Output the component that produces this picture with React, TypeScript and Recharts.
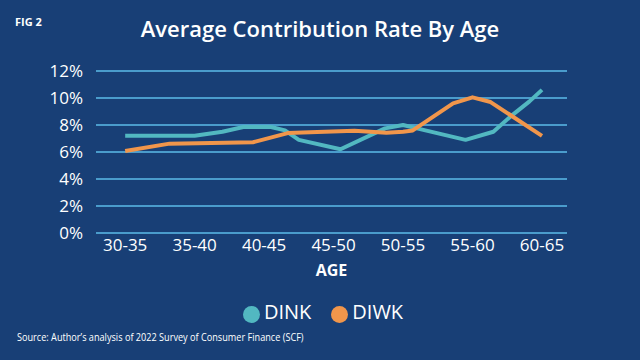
import {
  CartesianGrid,
  Label,
  Legend,
  Line,
  LineChart,
  XAxis,
  YAxis,
} from "recharts"

const ageGroups = ["30-35", "35-40", "40-45", "45-50", "50-55", "55-60", "60-65"]
const ageMids = [32.5, 37.5, 42.5, 47.5, 52.5, 57.5, 62.5]
const pctTicks = [0, 2, 4, 6, 8, 10, 12]

// contribution rate (%) by age
const dinkAges = [32.5, 37.5, 39.5, 41, 43, 44, 45, 48, 51.2, 52.5, 53.5, 57, 59, 60.2, 61.6, 62.5]
const dinkRates = [7.2, 7.2, 7.5, 7.85, 7.85, 7.6, 6.9, 6.2, 7.75, 8.0, 7.75, 6.9, 7.5, 8.6, 9.75, 10.6]

const diwkAges = [32.5, 35.7, 41.7, 44.2, 49, 51.3, 52.5, 53.2, 56.1, 57.5, 58.8, 62.5]
const diwkRates = [6.07, 6.62, 6.72, 7.4, 7.58, 7.42, 7.5, 7.6, 9.6, 10.05, 9.7, 7.2]

const dink = dinkAges.map((age, i) => ({ age, rate: dinkRates[i] }))
const diwk = diwkAges.map((age, i) => ({ age, rate: diwkRates[i] }))

const BG = "#183f76"
const GRID = "#4a9ccc"
const TEAL = "#52b8c1"
const ORANGE = "#f1964b"
const FONT = "'Open Sans', 'Noto Sans', sans-serif"

export default function App() {
  return (
    <div
      style={{
        position: "fixed",
        left: 0,
        top: 0,
        width: 640,
        height: 360,
        background: BG,
        fontFamily: FONT,
        color: "#fff",
        overflow: "hidden",
      }}
    >
      <div style={{ position: "absolute", left: 15, top: 14, fontSize: 11, fontWeight: 700 }}>
        FIG 2
      </div>
      <div
        style={{
          position: "absolute",
          left: 0,
          width: 640,
          top: 13,
          textAlign: "center",
          fontSize: 22,
          fontWeight: 600,
        }}
      >
        Average Contribution Rate By Age
      </div>
      <LineChart
        width={640}
        height={360}
        margin={{ top: 71, right: 73, bottom: 97, left: 0 }}
        style={{ position: "absolute", left: 0, top: 0 }}
      >
        <CartesianGrid vertical={false} stroke={GRID} strokeWidth={2} />
        <XAxis
          dataKey="age"
          type="number"
          domain={[30.4, 64.3]}
          ticks={ageMids}
          tickFormatter={(v: number) => ageGroups[ageMids.indexOf(v)]}
          allowDuplicatedCategory={false}
          axisLine={false}
          tickLine={false}
          tickSize={0}
          tickMargin={6}
          height={30}
          tick={{ fill: "#fff", fontSize: 17, fontFamily: FONT }}
        >
          <Label
            value="AGE"
            position="bottom"
            offset={2}
            fill="#fff"
            fontSize={16}
            fontWeight={700}
            fontFamily={FONT}
          />
        </XAxis>
        <YAxis
          domain={[0, 12]}
          ticks={pctTicks}
          tickFormatter={(v: number) => `${v}%`}
          axisLine={false}
          tickLine={false}
          tickSize={0}
          tickMargin={13}
          width={96}
          tick={{ fill: "#fff", fontSize: 17, fontFamily: FONT }}
        />
        <Line
          data={dink}
          dataKey="rate"
          name="DINK"
          stroke={TEAL}
          strokeWidth={4}
          dot={false}
          strokeLinejoin="round"
          isAnimationActive={false}
        />
        <Line
          data={diwk}
          dataKey="rate"
          name="DIWK"
          stroke={ORANGE}
          strokeWidth={4}
          dot={false}
          strokeLinejoin="round"
          isAnimationActive={false}
        />
        <Legend
          layout="horizontal"
          verticalAlign="middle"
          align="center"
          iconType="circle"
          iconSize={17}
          wrapperStyle={{ position: "absolute", top: 298, left: 13, width: 640 }}
          formatter={(value: string) => (
            <span style={{ color: "#fff", fontSize: 20, fontFamily: FONT, marginRight: 10 }}>
              {value}
            </span>
          )}
        />
      </LineChart>
      <div
        style={{
          position: "absolute",
          left: 17,
          top: 330,
          fontSize: 10.5,
          whiteSpace: "nowrap",
          transform: "scaleX(0.87)",
          transformOrigin: "left center",
        }}
      >
        Source: Author’s analysis of 2022 Survey of Consumer Finance (SCF)
      </div>
    </div>
  )
}
